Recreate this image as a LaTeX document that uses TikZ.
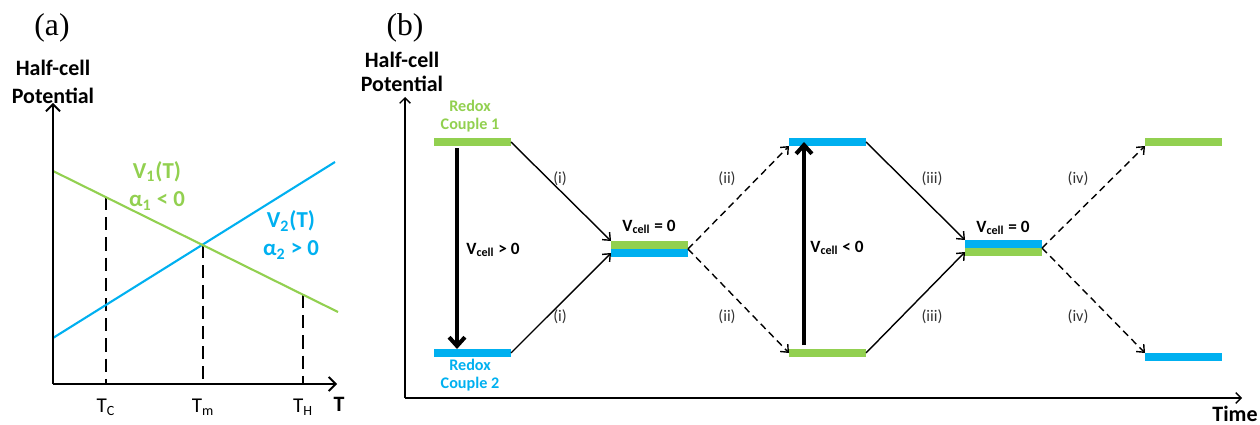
\documentclass[tikz,border=0pt]{standalone}
\usepackage{fontspec}
\setmainfont{Liberation Serif}
\newfontfamily\calibri{Carlito}
\usepackage{tikz}
\usetikzlibrary{arrows.meta,positioning}
\definecolor{cgreen}{RGB}{146,208,80}
\definecolor{cblue}{RGB}{0,176,240}

\begin{document}
\begin{tikzpicture}[
  x=0.02cm, y=-0.02cm,
  title/.style={font=\fontsize{18}{20}\selectfont, inner sep=0pt},
  axlabel/.style={font=\calibri\bfseries\fontsize{12.5}{15}\selectfont, align=center, inner sep=0pt},
  vlab/.style={font=\calibri\bfseries\fontsize{13}{16}\selectfont, align=center, inner sep=0pt},
  ticklbl/.style={font=\calibri\fontsize{12}{14}\selectfont, inner sep=0pt},
  redox/.style={font=\calibri\bfseries\fontsize{9.2}{10.3}\selectfont, align=center, inner sep=0pt},
  vcell/.style={font=\calibri\bfseries\fontsize{9.8}{11}\selectfont, inner sep=0pt},
  steplbl/.style={font=\calibri\fontsize{9.2}{10}\selectfont, text=black!80, inner sep=0pt},
  axis/.style={line width=1.1pt, -{Straight Barb[length=4pt,width=8pt]}},
  axisb/.style={line width=0.8pt, -{Straight Barb[length=3pt,width=6pt]}},
  curve/.style={line width=1.2pt},
  drop/.style={line width=1.1pt, dash pattern=on 7.5pt off 4pt},
  bar/.style={minimum width=1.54cm, minimum height=0.16cm, inner sep=0pt, outer sep=0pt},
  gbar/.style={bar, fill=cgreen},
  bbar/.style={bar, fill=cblue},
  arrow/.style={line width=0.8pt, -{Straight Barb[length=3.5pt,width=6pt]}},
  dasharrow/.style={arrow, line width=0.8pt, dash pattern=on 4pt off 2.6pt},
  bigarrow/.style={line width=2.3pt, -{Straight Barb[length=5pt,width=9pt]}}
]
\useasboundingbox (0,0) rectangle (1260,425);

% (a) potentials against temperature
\node[title] (tita) at (52,28) {(a)};
\node[axlabel] (ya) at (53,82) {Half-cell\\[1pt]Potential};
\coordinate (oa) at (53,384);
\coordinate (topa) at (53,103);
\coordinate (enda) at (337,384);
\foreach \x/\y/\s in {106/197/C, 203/245/m, 303/295/H} {
  \draw[drop] (\x,\y) -- (\x,384);
  \node[ticklbl] (t\s) at (\x,407) {T\textsubscript{\s}};
}
\coordinate (g0) at (53,171);
\coordinate (g1) at (338,312);
\coordinate (b0) at (53,338);
\coordinate (b1) at (335,162);
\draw[curve, cblue] (b0) -- (b1);
\draw[curve, cgreen] (g0) -- (g1);
\draw[axis] (oa) -- (topa);
\draw[axis] (oa) -- (enda);
\node[axlabel] (xlab) at (339,404) {T};
\node[vlab, cgreen] (v1) at (157,186) {V\textsubscript{1}(T)\\α\textsubscript{1} < 0};
\node[vlab, cblue] (v2) at (291,235) {V\textsubscript{2}(T)\\α\textsubscript{2} > 0};

% (b) cycle in time
\node[title] (titb) at (405,28) {(b)};
\node[axlabel] (yb) at (402,72) {Half-cell\\[-1.5pt]Potential};
\coordinate (ob) at (405,398);
\coordinate (topb) at (405,97);
\coordinate (endb) at (1242,398);
\draw[axisb] (ob) -- (topb);
\draw[axisb] (ob) -- (endb);
\node[axlabel] (tlab) at (1235,414) {Time};

\node[gbar] (b1g) at (472.5,142) {};
\node[bbar] (b1b) at (472.5,353) {};
\node[gbar] (m1g) at (649.5,245) {};
\node[bbar, below=0pt of m1g] (m1b) {};
\node[bbar] (b2b) at (827.5,142) {};
\node[gbar] (b2g) at (827.5,353) {};
\node[bbar] (m2b) at (1003.5,244) {};
\node[gbar, below=0pt of m2b] (m2g) {};
\node[gbar] (b3g) at (1183.5,142) {};
\node[bbar] (b3b) at (1183.5,357) {};

\node[redox, cgreen] (rc1) at (470,116) {Redox\\Couple 1};
\node[redox, cblue] (rc2) at (470,375) {Redox\\Couple 2};

\draw[arrow] (b1g.east) -- (m1g.north west);
\draw[arrow] (b1b.east) -- (m1b.west);
\draw[dasharrow] (m1g.south east) -- (b2b.south west);
\draw[dasharrow] (m1g.south east) -- (b2g.west);
\draw[arrow] (b2b.east) -- (m2b.north west);
\draw[arrow] (b2g.east) -- (m2g.west);
\draw[dasharrow] (m2b.south east) -- (b3g.south west);
\draw[dasharrow] (m2b.south east) -- (b3b.north west);

\draw[bigarrow] ([xshift=0.46cm,yshift=-0.05cm]b1g.south west) -- ([xshift=0.46cm]b1b.north west);
\draw[bigarrow] ([xshift=0.3cm,yshift=0.08cm]b2g.north west) -- ([xshift=0.3cm]b2b.west);

\node[vcell, anchor=west] (vpos) at (466,250) {V\textsubscript{cell} > 0};
\node[vcell, anchor=west] (vneg) at (810,248) {V\textsubscript{cell} < 0};
\node[vcell] (vz1) at (649,227) {V\textsubscript{cell} = 0};
\node[vcell] (vz2) at (1003,228) {V\textsubscript{cell} = 0};

\foreach \x/\t in {560/(i), 727/(ii), 932/(iii), 1078/(iv)} {
  \node[steplbl] (up\x) at (\x,179) {\t};
  \node[steplbl] (lo\x) at (\x,317) {\t};
}
\end{tikzpicture}
\end{document}
